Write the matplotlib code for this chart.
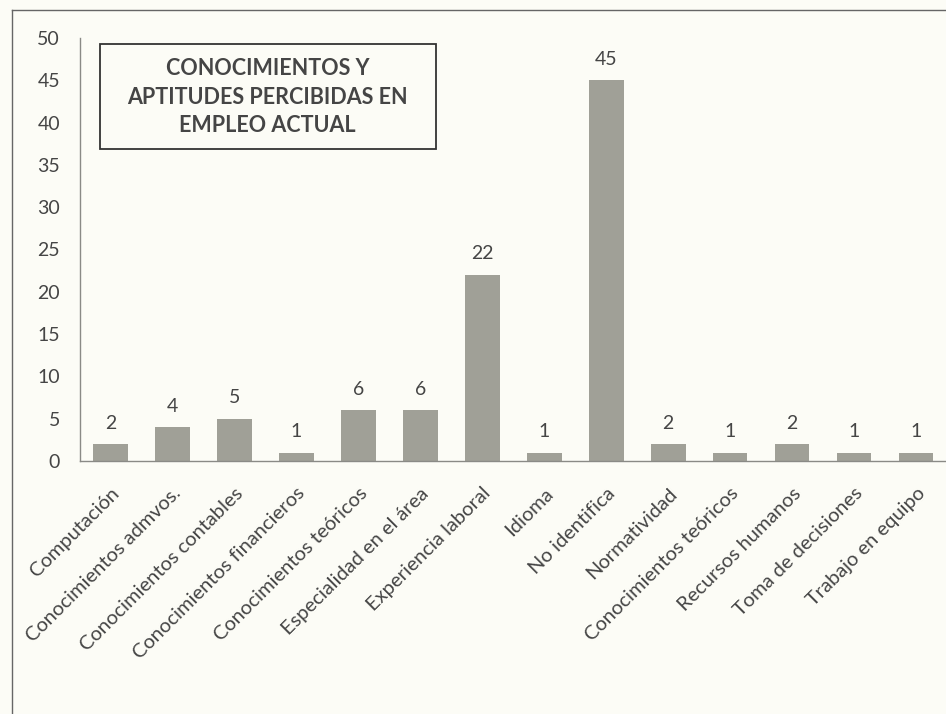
import matplotlib.pyplot as plt
from matplotlib.lines import Line2D
from matplotlib.patches import Rectangle

# Chart data
categories = ['Computación', 'Conocimientos admvos.', 'Conocimientos contables',
              'Conocimientos financieros', 'Conocimientos teóricos',
              'Especialidad en el área', 'Experiencia laboral', 'Idioma',
              'No identifica', 'Normatividad', 'Conocimientos teóricos',
              'Recursos humanos', 'Toma de decisiones', 'Trabajo en equipo']
values = [2, 4, 5, 1, 6, 6, 22, 1, 45, 2, 1, 2, 1, 1]
y_ticks = [0, 5, 10, 15, 20, 25, 30, 35, 40, 45, 50]
title = 'CONOCIMIENTOS Y\nAPTITUDES PERCIBIDAS EN\nEMPLEO ACTUAL'

plt.rcParams['font.family'] = ['Lato', 'DejaVu Sans']
text_color = '#454545'
bg = '#fcfcf6'
W, H = 946, 714

fig = plt.figure(figsize=(W / 100, H / 100), dpi=100, facecolor=bg)
ax = fig.add_axes([79.5 / W, 253 / H, 867.5 / W, 423 / H])
ax.set_facecolor(bg)

x = range(len(categories))
ax.bar(x, values, width=0.56, color='#a0a097', edgecolor='none')

for xi, v in zip(x, values):
    ax.annotate(str(v), (xi, v), xytext=(0, 9), textcoords='offset points',
                ha='center', va='bottom', fontsize=14, color=text_color)

ax.set_xlim(-0.5, len(categories) - 0.5)
ax.set_ylim(0, 50)
ax.set_yticks(y_ticks)
ax.set_xticks(list(x))
ax.set_xticklabels(categories, rotation=45, ha='right', rotation_mode='anchor',
                   fontsize=14.5, color=text_color)
ax.tick_params(axis='both', length=0, colors=text_color)
ax.tick_params(axis='y', pad=14, labelsize=14)
ax.tick_params(axis='x', pad=17, labelsize=14.5)

for s in ['top', 'right']:
    ax.spines[s].set_visible(False)
for s in ['left', 'bottom']:
    ax.spines[s].set_color('#8a8a86')
    ax.spines[s].set_linewidth(1.0)

# Title box
fig.add_artist(Rectangle((100 / W, 1 - 149 / H), 336 / W, 105 / H,
                         transform=fig.transFigure, facecolor=bg,
                         edgecolor='#333333', linewidth=1.3))
fig.text(267.5 / W, 1 - 97 / H, title, ha='center', va='center',
         fontsize=15.5, fontweight='bold', color=text_color, linespacing=1.45)

# Outer chart frame (cut off on right and bottom)
fig.add_artist(Line2D([12 / W, 12 / W], [0, 704 / H], color='#666666',
                      linewidth=1.0, transform=fig.transFigure))
fig.add_artist(Line2D([12 / W, 1], [704 / H, 704 / H], color='#666666',
                      linewidth=1.0, transform=fig.transFigure))

fig.savefig('out.png', dpi=100, facecolor=bg)
